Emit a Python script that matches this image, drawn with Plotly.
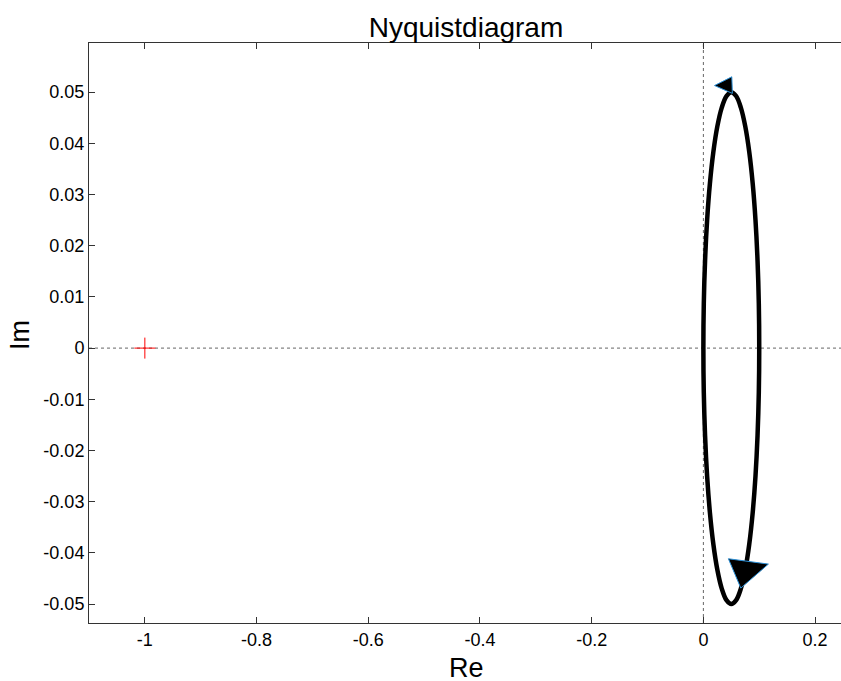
import plotly.graph_objects as go

# Nyquist curve points (positive-frequency branch, then mirrored branch)
re_pos = [0.1000, 0.09924, 0.09698, 0.09330, 0.08830, 0.08214, 0.07500, 0.06710, 0.05868, 0.05000,
          0.04132, 0.03290, 0.02500, 0.01786, 0.01170, 0.00670, 0.00302, 0.00076, 0.0000]
im_pos = [0.0000, 0.00868, 0.01710, 0.02500, 0.03214, 0.03830, 0.04330, 0.04698, 0.04924, 0.05000,
          0.04924, 0.04698, 0.04330, 0.03830, 0.03214, 0.02500, 0.01710, 0.00868, 0.0000]
re_neg = list(reversed(re_pos))
im_neg = [-v for v in reversed(im_pos)]

# Arrow-head triangles (data coordinates)
arrow_top_re = [0.0200, 0.0509, 0.0519, 0.0200]
arrow_top_im = [0.05129, 0.05300, 0.04975, 0.05129]
arrow_bot_re = [0.0448, 0.1164, 0.0670, 0.0448]
arrow_bot_im = [-0.04115, -0.04219, -0.04688, -0.04115]

# Critical point
crit_re = [-1.0]
crit_im = [0.0]

x_ticks = [-1, -0.8, -0.6, -0.4, -0.2, 0, 0.2]
x_ticktext = ["-1", "-0.8", "-0.6", "-0.4", "-0.2", "0", "0.2"]
y_ticks = [-0.05, -0.04, -0.03, -0.02, -0.01, 0, 0.01, 0.02, 0.03, 0.04, 0.05]
y_ticktext = ["-0.05", "-0.04", "-0.03", "-0.02", "-0.01", "0", "0.01", "0.02", "0.03", "0.04", "0.05"]

x_range = [-1.1, 0.2464]
y_range = [-0.0537, 0.0596]

FONT = "Liberation Sans, Arial, Helvetica, sans-serif"

fig = go.Figure()

fig.add_trace(go.Scatter(x=re_pos + re_neg[1:], y=im_pos + im_neg[1:], mode="lines",
                         line=dict(color="black", width=4.5, shape="spline"),
                         hoverinfo="skip", showlegend=False))

fig.add_trace(go.Scatter(x=arrow_top_re, y=arrow_top_im, mode="lines", fill="toself",
                         fillcolor="black", line=dict(color="#2b8fd6", width=1),
                         hoverinfo="skip", showlegend=False))
fig.add_trace(go.Scatter(x=arrow_bot_re, y=arrow_bot_im, mode="lines", fill="toself",
                         fillcolor="black", line=dict(color="#2b8fd6", width=1),
                         hoverinfo="skip", showlegend=False))

fig.add_trace(go.Scatter(x=crit_re, y=crit_im, mode="markers",
                         marker=dict(symbol="cross-thin", size=15,
                                     line=dict(color="red", width=1)),
                         hoverinfo="skip", showlegend=False))

# dotted zero lines
fig.add_shape(type="line", xref="x", yref="y domain", x0=0, x1=0, y0=0, y1=1,
              line=dict(color="#666666", width=1, dash="dot"), layer="below")
fig.add_shape(type="line", xref="x domain", yref="y", x0=0, x1=1, y0=0, y1=0,
              line=dict(color="#666666", width=1, dash="dot"), layer="below")

fig.update_layout(
    width=841, height=681,
    margin=dict(l=89, r=0, t=43, b=58),
    paper_bgcolor="white", plot_bgcolor="white",
    font=dict(family=FONT, color="black"),
    title=dict(text="Nyquistdiagram", x=(466 - 89) / 752, xref="paper", xanchor="center",
               y=1, yref="paper", yanchor="bottom", pad=dict(b=6),
               font=dict(size=28, family=FONT)),
    xaxis=dict(range=x_range, tickvals=x_ticks, ticktext=x_ticktext,
               ticks="inside", ticklen=6, tickcolor="#333", showline=True,
               linecolor="#333", linewidth=1, mirror="ticks", showgrid=False,
               zeroline=False, tickfont=dict(size=18), fixedrange=True),
    yaxis=dict(range=y_range, tickvals=y_ticks, ticktext=y_ticktext,
               ticks="inside", ticklen=6, tickcolor="#333", showline=True,
               linecolor="#333", linewidth=1, mirror=False, showgrid=False,
               zeroline=False, tickfont=dict(size=18), fixedrange=True),
    annotations=[
        dict(text="Re", xref="paper", yref="paper", x=(466 - 89) / 752, y=0,
             yshift=-45, showarrow=False, font=dict(size=27, family=FONT),
             xanchor="center", yanchor="middle"),
        dict(text="Im", xref="paper", yref="paper", x=0, xshift=-69,
             y=(623 - 335) / 580, showarrow=False, textangle=-90,
             font=dict(size=27, family=FONT), xanchor="center", yanchor="middle"),
    ],
)

fig.write_html("out.html")
